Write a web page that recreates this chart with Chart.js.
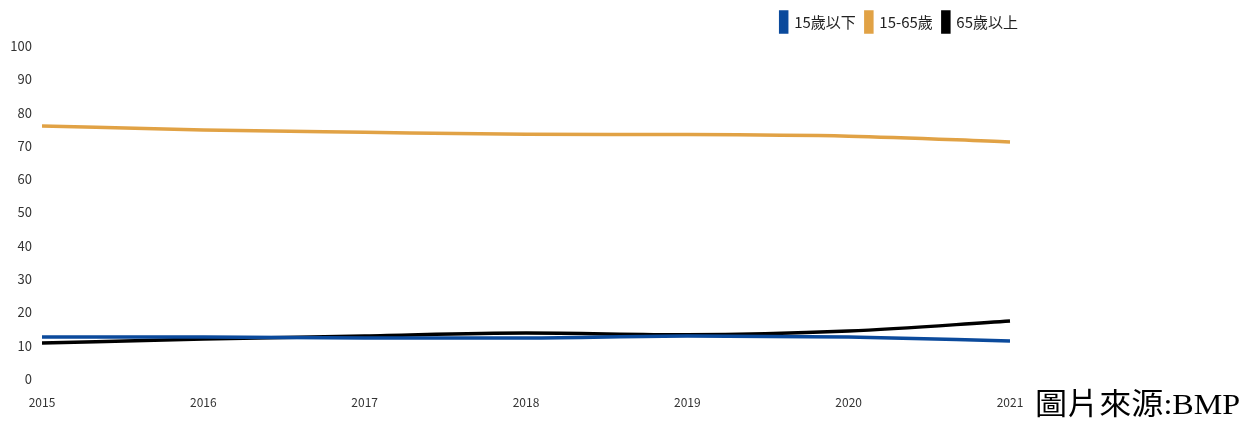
<!DOCTYPE html>
<html><head><meta charset="utf-8">
<script src="https://cdn.jsdelivr.net/npm/chart.js@4.4.0/dist/chart.umd.min.js"></script>
<style>
html,body{margin:0;padding:0;background:#fff;}
#wrap{position:relative;width:1240px;height:421px;}
#src{position:absolute;left:1035px;top:387px;font-family:"Liberation Serif","Noto Sans CJK TC",serif;font-size:30px;color:#000;line-height:34px;white-space:nowrap;transform:scaleX(1.07);transform-origin:left top;}
</style></head>
<body>
<div id="wrap"><canvas id="c" width="1240" height="421"></canvas><div id="src">圖片來源:BMP</div></div>
<script>
const years = ['2015','2016','2017','2018','2019','2020','2021'];
const under15 = [12.6, 12.6, 12.3, 12.3, 12.9, 12.6, 11.4];
const age15to65 = [76.0, 74.8, 74.1, 73.5, 73.4, 72.9, 71.2];
const over65 = [10.8, 12.0, 12.9, 13.8, 13.3, 14.4, 17.4];
const seriesNames = ['15歲以下', '15-65歲', '65歲以上'];
const font = "'Liberation Sans Narrow','Noto Sans CJK TC',Lato,sans-serif";

const legendSpacer = {
  id: 'legendSpacer',
  beforeLayout(chart) {
    const lg = chart.legend;
    if (lg && !lg._patched) {
      const orig = lg.fit;
      lg.fit = function () { orig.call(this); this.height += 4; };
      lg._patched = true;
    }
  }
};

new Chart(document.getElementById('c'), {
  type: 'line',
  data: {
    labels: years,
    datasets: [
      {label: seriesNames[0], data: under15, borderColor: '#0B4A9C', backgroundColor: '#0B4A9C', borderWidth: 3.5, pointRadius: 0, cubicInterpolationMode: 'monotone'},
      {label: seriesNames[1], data: age15to65, borderColor: '#E1A245', backgroundColor: '#E1A245', borderWidth: 3.5, pointRadius: 0, cubicInterpolationMode: 'monotone'},
      {label: seriesNames[2], data: over65, borderColor: '#000000', backgroundColor: '#000000', borderWidth: 3.5, pointRadius: 0, cubicInterpolationMode: 'monotone'}
    ]
  },
  plugins: [legendSpacer],
  options: {
    responsive: false,
    animation: false,
    devicePixelRatio: 1,
    layout: {padding: {left: 0, right: 212, top: 2, bottom: 0}},
    plugins: {
      legend: {
        position: 'top', align: 'end',
        labels: {boxWidth: 6, boxHeight: 20, padding: 10, color: '#222', font: {family: font, size: 15}}
      },
      tooltip: {enabled: false}
    },
    scales: {
      x: {
        grid: {display: false, drawTicks: false},
        border: {display: false},
        ticks: {color: '#333', padding: 16, maxRotation: 0, font: {family: font, size: 12}},
        afterFit: s => { s.height = 42; }
      },
      y: {
        min: 0, max: 100,
        grid: {display: false, drawTicks: false},
        border: {display: false},
        ticks: {stepSize: 10, color: '#333', padding: 10, font: {family: font, size: 13}},
        afterFit: s => { s.width = 42; }
      },
      yRightSpace: {
        position: 'right', display: true,
        grid: {display: false, drawTicks: false},
        border: {display: false},
        ticks: {display: false},
        afterFit: s => { s.width = 18; }
      }
    }
  }
});
</script>
</body></html>
